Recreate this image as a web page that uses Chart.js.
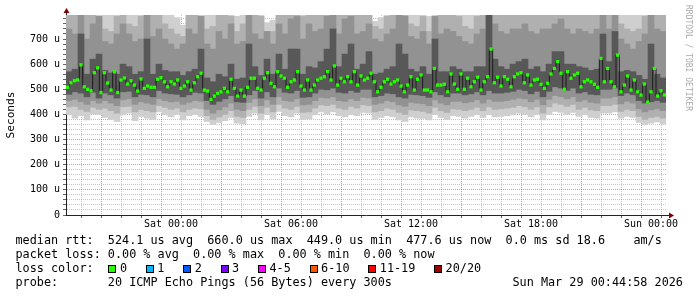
<!DOCTYPE html>
<html><head><meta charset="utf-8">
<script src="https://cdn.jsdelivr.net/npm/chart.js@4.4.1/dist/chart.umd.min.js"></script>
<style>
html,body{margin:0;padding:0;background:#fff;}
#wrap{position:relative;width:697px;height:297px;overflow:hidden;background:#fff;}
canvas{position:absolute;left:0;top:0;}
.t{position:absolute;font-family:'DejaVu Sans Mono',monospace;font-size:11.8px;line-height:11.8px;white-space:pre;color:#000;}
.box{position:absolute;width:8px;height:8px;box-sizing:border-box;border:1px solid #000;}
.side{position:absolute;font-family:'DejaVu Sans Mono',monospace;font-size:8px;line-height:8px;color:#aaa;writing-mode:vertical-rl;white-space:pre;}
</style></head>
<body>
<div id="wrap">
<canvas id="c" width="697" height="297"></canvas>
</div>
<script>
// ---- time layout (hours relative to Sat 00:00) ----
const START_H = -5.25, END_H = 24.75;
const MED_STEP_H = 1/6;     // 10-minute median samples
const SMOKE_STEP_H = 0.3;   // 18-minute smoke columns
const xTickHours = [0, 6, 12, 18, 24];
const xTickLabels = ['Sat 00:00', 'Sat 06:00', 'Sat 12:00', 'Sat 18:00', 'Sun 00:00'];
const Y_MAX = 795.5;        // microseconds

// ---- median RTT (microseconds) ----
const medianUs = [
 508,526,534,537,597,510,500,494,566,585,
 487,566,525,497,570,487,537,545,521,534,
 517,493,541,504,513,508,508,540,546,530,
 510,530,521,537,504,513,530,497,526,550,
 564,497,493,460,473,484,490,504,490,540,
 504,473,497,473,508,544,544,504,497,544,
 566,524,510,570,553,544,508,530,537,570,
 513,497,537,497,517,537,544,550,570,537,
 593,517,544,530,550,530,570,517,553,537,
 544,564,530,490,508,530,540,521,530,537,
 513,490,517,550,497,540,557,497,497,490,
 583,517,517,520,490,561,521,500,561,500,
 544,510,530,548,497,530,550,660,526,548,
 513,550,540,510,550,561,566,526,557,517,
 537,540,520,504,524,561,583,610,564,500,
 570,544,557,564,510,530,537,530,520,508,
 623,530,583,530,510,636,490,517,553,497,
 537,490,477,521,449,490,583,473,494,477.6
];

// ---- smoke (ping distribution) band edges per column, microseconds ----
const outerHi = [
 800,800,800,800,800,800,800,800,800,800,
 800,800,800,800,800,800,800,800,785,755,
 800,800,800,800,800,800,800,800,790,800,
 800,800,800,765,775,800,800,800,800,800,
 800,800,800,800,800,800,800,800,800,800,
 800,770,785,800,800,800,800,800,800,800,
 790,800,800,800,800,800,800,800,800,800,
 800,800,800,800,800,800,800,800,800,800,
 800,800,800,800,800,800,800,800,800,800,
 800,800,800,800,795,800,800,800,800,800];
const midHi = [
 800,800,800,800,800,790,740,730,790,800,
 760,750,790,800,800,800,760,740,720,710,
 800,800,790,740,750,800,800,790,730,760,
 800,800,790,730,730,800,800,800,800,790,
 800,800,800,800,800,800,800,800,800,800,
 800,750,740,790,800,800,800,760,750,790,
 730,790,800,800,800,790,750,740,790,800,
 800,800,800,800,800,800,800,800,800,800,
 800,800,800,800,800,800,800,800,800,800,
 800,800,760,740,730,740,790,800,800,800];
const innerHi = [
 740,720,800,700,760,790,690,680,720,760,
 720,690,700,800,710,740,700,680,660,680,
 740,720,790,680,660,730,700,760,680,690,
 800,720,700,730,680,760,720,780,790,700,
 760,730,740,790,800,720,780,790,720,730,
 760,700,690,720,740,800,790,710,700,730,
 680,790,720,740,730,710,690,680,720,740,
 800,760,730,720,740,740,760,730,720,740,
 740,760,780,740,720,740,730,720,740,800,
 740,800,700,680,660,690,720,800,740,730];
const coreHi = [
 570,580,720,560,620,640,575,565,560,600,
 590,560,570,700,560,600,575,570,570,555,
 570,580,660,545,530,560,550,600,540,545,
 680,590,555,620,560,640,580,660,660,560,
 590,585,610,660,740,590,640,680,580,600,
 650,560,565,580,590,680,640,580,570,590,
 560,700,570,570,590,580,570,570,590,590,
 800,620,590,580,600,610,620,580,590,570,
 600,650,650,600,600,590,585,575,580,720,
 610,730,570,575,570,555,540,680,560,545];
const coreLo = [
 480,490,485,470,488,465,485,478,465,490,
 492,470,480,478,470,495,485,482,480,470,
 478,488,485,455,440,452,462,475,450,448,
 478,495,465,490,470,505,488,485,495,468,
 470,485,500,498,505,488,485,495,488,500,
 500,470,475,485,482,470,465,480,478,475,
 468,490,478,470,485,485,478,482,490,478,
 495,485,485,488,492,500,495,482,492,470,
 492,510,505,495,505,485,490,480,478,500,
 500,505,475,485,478,455,445,450,455,448];
const innerLo = [
 455,460,450,440,455,445,455,445,435,458,
 462,440,450,445,440,462,455,450,452,440,
 448,455,452,420,405,418,430,445,420,415,
 448,462,435,458,440,470,455,452,462,438,
 440,455,468,465,470,455,452,462,455,468,
 465,440,445,455,450,438,432,448,445,442,
 435,458,445,438,452,452,446,450,458,445,
 460,452,452,455,460,465,462,450,460,438,
 460,475,470,462,470,452,458,448,445,465,
 465,470,442,452,445,422,410,418,422,415];
const midLo = [
 430,432,420,412,428,420,425,415,405,430,
 432,410,420,415,410,435,428,420,425,410,
 420,425,422,395,380,390,400,415,392,388,
 420,432,405,428,410,440,425,420,432,408,
 410,425,438,435,440,425,420,432,425,438,
 435,410,415,425,420,408,400,418,415,412,
 405,428,415,408,422,420,415,420,428,415,
 430,420,422,425,428,435,430,420,430,405,
 430,445,440,432,440,420,428,418,415,435,
 435,440,412,420,415,392,380,388,392,385];
const outerLo = [
 400,385,395,378,402,400,388,380,372,398,
 405,375,392,385,380,410,398,390,400,378,
 395,400,392,372,360,368,375,388,365,362,
 392,405,378,400,382,412,395,390,405,380,
 382,398,410,402,410,395,390,400,395,408,
 405,380,388,395,390,378,372,390,385,384,
 378,400,388,380,395,392,385,392,400,388,
 400,390,392,395,398,405,400,390,400,378,
 400,412,408,400,408,392,398,388,385,405,
 405,410,385,392,388,368,360,365,370,362];

// ---- legend text ----
const statLines = [
 'median rtt:  524.1 us avg  660.0 us max  449.0 us min  477.6 us now  0.0 ms sd 18.6    am/s',
 'packet loss: 0.00 % avg  0.00 % max  0.00 % min  0.00 % now'
];
const lossLabels = ['0', '1', '2', '3', '4-5', '6-10', '11-19', '20/20'];
const lossColors = ['#26ff00', '#00b8ff', '#0059ff', '#7e00ff', '#ff00ff', '#ff5500', '#ff0000', '#a10000'];
const probeText = 'probe:       20 ICMP Echo Pings (56 Bytes) every 300s';
const dateText = 'Sun Mar 29 00:44:58 2026';
const sideText = 'RRDTOOL / TOBI OETIKER';

// ---------------- HTML text ----------------
const wrap = document.getElementById('wrap');
function addText(cls, txt, left, top) {
  const d = document.createElement('div');
  d.className = cls; d.textContent = txt;
  d.style.left = left + 'px'; d.style.top = top + 'px';
  wrap.appendChild(d); return d;
}
const CW = 7.1, TX = 15.5, LINE0 = 235, LSTEP = 14;
addText('t', statLines[0], TX, LINE0);
addText('t', statLines[1], TX, LINE0 + LSTEP);
addText('t', 'loss color:', TX, LINE0 + 2 * LSTEP);
let bx = 108.3;
lossLabels.forEach((lab, k) => {
  const b = document.createElement('div');
  b.className = 'box'; b.style.background = lossColors[k];
  b.style.left = bx + 'px'; b.style.top = (LINE0 + 2 * LSTEP + 1.5) + 'px';
  wrap.appendChild(b);
  addText('t', lab, bx + 11.6, LINE0 + 2 * LSTEP);
  bx += 30.3 + CW * lab.length;
});
addText('t', probeText, TX, LINE0 + 3 * LSTEP);
addText('t', dateText, TX + 70 * CW, LINE0 + 3 * LSTEP);
addText('side', sideText, 684, 4.5);

// ---------------- chart ----------------
const medX = i => START_H + (i + 0.5) * MED_STEP_H;
const smokeX = j => START_H + (j + 0.5) * SMOKE_STEP_H;
function band(lo, hi, color, order) {
  return {
    type: 'bar', order,
    data: hi.map((h, j) => ({ x: smokeX(j), y: [lo[j], h] })),
    backgroundColor: color, borderWidth: 0,
    barPercentage: 1, categoryPercentage: 1, grouped: false, clip: 0
  };
}
const gridHours = []; for (let h = -5; h <= 24; h++) gridHours.push(h);
const yGrid = []; for (let v = 0; v <= 780; v += 20) yGrid.push(v);
const MAJOR = 'rgba(130,30,30,0.42)';
const MINOR = 'rgba(140,140,140,0.5)';

const arrows = {
  id: 'arrows',
  afterDraw(chart) {
    const { ctx, chartArea: a } = chart;
    const lx = Math.round(a.left) + 0.5, by = Math.round(a.bottom) + 0.5;
    ctx.save();
    ctx.strokeStyle = '#222'; ctx.lineWidth = 1;
    ctx.beginPath();
    ctx.moveTo(lx, a.top); ctx.lineTo(lx, a.top - 3);
    ctx.moveTo(a.right, by); ctx.lineTo(a.right + 4, by);
    ctx.stroke();
    ctx.fillStyle = '#7f0000';
    ctx.beginPath(); ctx.moveTo(lx - 3, a.top - 2); ctx.lineTo(lx + 3, a.top - 2); ctx.lineTo(lx, a.top - 7); ctx.closePath(); ctx.fill();
    ctx.beginPath(); ctx.moveTo(a.right + 3, by - 3); ctx.lineTo(a.right + 3, by + 3); ctx.lineTo(a.right + 8, by); ctx.closePath(); ctx.fill();
    ctx.restore();
  }
};

const monoTick = { family: 'DejaVu Sans Mono', size: 10 };
new Chart(document.getElementById('c'), {
  type: 'bar',
  data: {
    datasets: [
      { type: 'line', order: 1, data: medianUs.map((v, i) => ({ x: medX(i), y: v })),
        showLine: false, pointStyle: 'rect', pointRadius: 2.3, pointBorderWidth: 0,
        pointBackgroundColor: '#26ff00', clip: 0 },
      { type: 'line', order: 2, data: medianUs.map((v, i) => ({ x: medX(i), y: v })),
        stepped: 'middle', borderColor: '#1c1c1c', borderWidth: 1, pointRadius: 0, fill: false, clip: 0 },
      band(coreLo, coreHi, '#585858', 3),
      band(innerLo, innerHi, '#929292', 4),
      band(midLo, midHi, '#b0b0b0', 5),
      band(outerLo, outerHi, '#cfcfcf', 6)
    ]
  },
  options: {
    responsive: false, animation: false, devicePixelRatio: 1, events: [],
    layout: { padding: { top: 15, right: 31, left: 0, bottom: 0 } },
    plugins: { legend: { display: false }, tooltip: { enabled: false } },
    scales: {
      x: {
        type: 'linear', min: START_H, max: END_H, bounds: 'data', offset: false, z: 1,
        afterBuildTicks: s => { s.ticks = gridHours.map(v => ({ value: v })); },
        afterFit: s => { s.height = 82; },
        grid: { color: c => (c.tick && Math.abs(c.tick.value % 3) === 0) ? MAJOR : MINOR,
                lineWidth: 1, tickLength: 3, tickColor: '#666' },
        border: { display: true, color: '#222', width: 1, dash: [1, 1] },
        ticks: { stepSize: 1, autoSkip: false, maxRotation: 0, minRotation: 0, padding: 0,
                 color: '#000', font: monoTick,
                 callback: v => { const k = xTickHours.indexOf(v); return k < 0 ? '' : xTickLabels[k]; } }
      },
      y: {
        type: 'linear', min: 0, max: Y_MAX, bounds: 'data', z: 1,
        afterBuildTicks: s => { s.ticks = yGrid.map(v => ({ value: v })); },
        afterFit: s => { s.width = 66; },
        grid: { color: c => (c.tick && c.tick.value % 100 === 0) ? MAJOR : MINOR,
                lineWidth: 1, tickLength: 3, tickColor: '#666' },
        border: { display: true, color: '#222', width: 1, dash: [1, 1] },
        ticks: { stepSize: 20, autoSkip: false, padding: 3, color: '#000', font: monoTick,
                 callback: v => (v % 100 === 0 ? (v === 0 ? '0' : v + ' u') : '') },
        title: { display: true, text: 'Seconds', color: '#000',
                 font: { family: 'DejaVu Sans Mono', size: 11.2 }, padding: { top: 4, bottom: 0 } }
      }
    }
  },
  plugins: [arrows]
});
</script>
</body></html>
